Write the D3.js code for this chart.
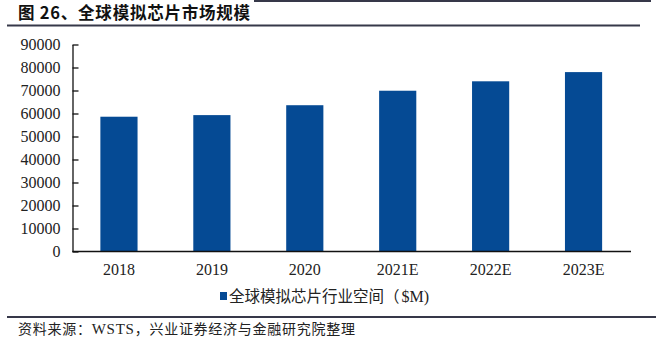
<!DOCTYPE html>
<html><head><meta charset="utf-8">
<script src="https://cdn.jsdelivr.net/npm/d3@7"></script>
<style>
html,body{margin:0;padding:0;background:#fff;}
svg{display:block;}
</style></head>
<body>
<svg id="c" width="656" height="342"></svg>
<script>
const categories = ["2018","2019","2020","2021E","2022E","2023E"];
const values = [58600, 59300, 63600, 69900, 74000, 78000];
const yTicks = [0,10000,20000,30000,40000,50000,60000,70000,80000,90000];
const titleText = "图 26、全球模拟芯片市场规模";
const seriesNameCJK = "全球模拟芯片行业空间（";
const seriesNameUnit = "$M)";
const sourceParts = [["资料来源：","cjk"],["WSTS","serif"],["，兴业证券经济与金融研究院整理","cjk"]];

const svg = d3.select("#c");
const barColor = "#054a94";
const lineColor = "#363849";
const serif = "'Liberation Serif','DejaVu Serif',serif";
const cjk = "'Noto Sans CJK SC','Noto Sans',sans-serif";

// header lines
svg.append("line").attr("x1",254).attr("x2",651).attr("y1",1).attr("y2",1)
  .attr("stroke",lineColor).attr("stroke-width",2);
svg.append("line").attr("x1",7).attr("x2",640).attr("y1",25.5).attr("y2",25.5)
  .attr("stroke",lineColor).attr("stroke-width",2.2);
svg.append("text").attr("x",18).attr("y",19).attr("font-family",cjk)
  .attr("font-weight",700).attr("font-size",16.5).attr("fill","#111")
  .attr("textLength",232).attr("lengthAdjust","spacing")
  .text(titleText);

const x = d3.scaleBand().domain(categories).range([72.5,630]).paddingInner(0.6).paddingOuter(0.3);
const y = d3.scaleLinear().domain([0,90000]).range([251.5,44.5]);

svg.selectAll("rect.bar").data(values).join("rect").attr("class","bar")
  .attr("x",(d,i)=>x(categories[i])).attr("width",x.bandwidth())
  .attr("y",d=>y(d)).attr("height",d=>y(0)-y(d)).attr("fill",barColor);

const ya = svg.append("g").attr("transform","translate(72.5,0)")
  .call(d3.axisLeft(y).tickValues(yTicks).tickFormat(d3.format("d")).tickSizeInner(-6).tickSizeOuter(0).tickPadding(12));
ya.select(".domain").attr("stroke","#111").attr("stroke-width",1.3);
ya.selectAll(".tick line").attr("stroke","#111").attr("stroke-width",1.3);
ya.selectAll("text").attr("font-family",serif).attr("font-size",16).attr("fill","#222");

const xa = svg.append("g").attr("transform","translate(0,251.5)")
  .call(d3.axisBottom(x).tickSize(0).tickPadding(12));
xa.select(".domain").attr("stroke","#111").attr("stroke-width",1.3).attr("d","M72.5,0H631");
xa.selectAll("text").attr("font-family",serif).attr("font-size",16).attr("fill","#222");

// legend
svg.append("rect").attr("x",220).attr("y",292).attr("width",7).attr("height",8).attr("fill",barColor);
const lg = svg.append("text").attr("x",229).attr("y",302).attr("font-size",15.5).attr("fill","#222");
lg.append("tspan").attr("font-family",cjk).text(seriesNameCJK);
lg.append("tspan").attr("font-family",serif).attr("font-size",16).attr("dx",2).text(seriesNameUnit);

// footer
svg.append("line").attr("x1",7).attr("x2",656).attr("y1",317).attr("y2",317)
  .attr("stroke",lineColor).attr("stroke-width",2);
const ft = svg.append("text").attr("x",18).attr("y",334).attr("font-size",14).attr("fill","#222")
  .attr("textLength",337).attr("lengthAdjust","spacing");
sourceParts.forEach(p=>{
  ft.append("tspan").attr("font-family",p[1]==="cjk"?cjk:serif)
    .attr("font-size",p[1]==="cjk"?14:15).text(p[0]);
});
</script>
</body></html>
